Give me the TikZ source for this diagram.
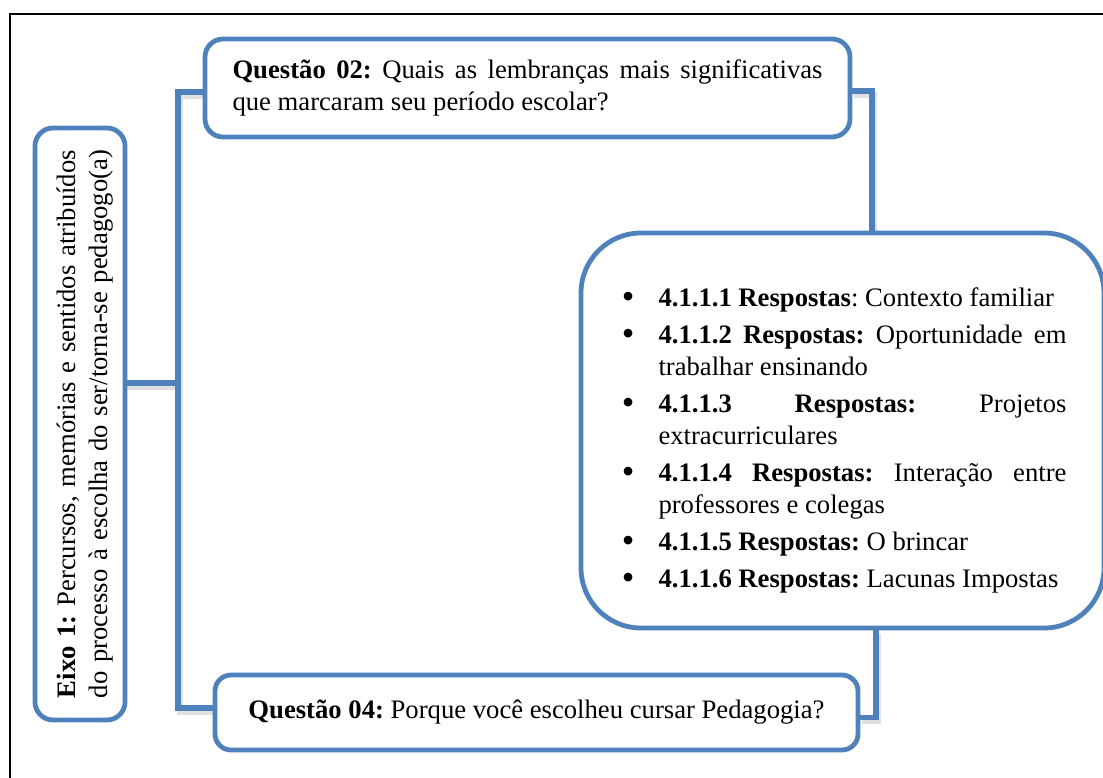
\documentclass[tikz,border=0pt]{standalone}
\usepackage{fontspec}
\setmainfont{Liberation Serif}
\usetikzlibrary{backgrounds}
\definecolor{axisblue}{HTML}{4F81BD}
\newcommand\bulletmark{\raisebox{-0.06em}{\scalebox{1.35}{\textbullet}}}
\frenchspacing
\begin{document}
\begin{tikzpicture}[x=0.75pt,y=-0.75pt,
  box/.style={draw=axisblue, line width=3.6pt, fill=white, rounded corners=13.5pt,
    inner sep=0pt, align=center, font=\fontsize{20pt}{24pt}\selectfont},
  conn/.style={draw=axisblue, line width=3.8pt,
    preaction={draw=black, opacity=0.12, line width=5pt,
      transform canvas={shift={(1.5pt,-3pt)}}}},
  frame/.style={draw=black, line width=1.5pt}]
\useasboundingbox (0,0) rectangle (1103,778);

% axis box, text turned upwards
\node[box, minimum width=444pt, minimum height=67.5pt, rotate=90] (eixo) at (80,424)
  {\parbox{411pt}{\vspace*{7.5pt}\parfillskip=0pt\textbf{Eixo 1:} Percursos, memórias e sentidos atribuídos\linebreak
   do processo à escolha do ser/torna-se pedagogo(a)}};

% question boxes
\node[box, minimum width=483.75pt, minimum height=73.5pt] (q2) at (527.5,88)
  {\parbox{442.5pt}{\textbf{Questão 02:} Quais as lembranças mais significativas
   que marcaram seu período escolar?}};
\node[box, rounded corners=12pt, minimum width=482.25pt, minimum height=56.25pt] (q4) at (536.5,712.5)
  {\textbf{Questão 04:} Porque você escolheu cursar Pedagogia?};

% answers box
\node[box, rounded corners=45pt, minimum width=392.25pt, minimum height=296.25pt] (resp) at (842.5,430.5)
  {\begin{minipage}{336pt}
   \hyphenpenalty=10000 \exhyphenpenalty=10000 \tolerance=10000
   \vspace*{15pt}
   \begin{list}{\bulletmark}{\setlength{\leftmargin}{30pt}\setlength{\labelwidth}{12pt}%
     \setlength{\labelsep}{18pt}\setlength{\itemsep}{3.75pt}\setlength{\parsep}{0pt}%
     \setlength{\topsep}{0pt}\setlength{\partopsep}{0pt}}
   \item \textbf{4.1.1.1 Respostas}: Contexto familiar
   \item \textbf{4.1.1.2 Respostas:} Oportunidade em trabalhar ensinando
   \item \textbf{4.1.1.3 Respostas:} Projetos extracurriculares
   \item \textbf{4.1.1.4 Respostas:} Interação entre professores e colegas
   \item \textbf{4.1.1.5 Respostas:} O brincar
   \item \textbf{4.1.1.6 Respostas:} Lacunas Impostas
   \end{list}
   \end{minipage}};

\begin{scope}[on background layer]
  % page frame
  \draw[frame] (1120,14) -- (10,14) -- (10,800);
  % connectors
  \coordinate (hub) at (178,383);
  \draw[conn] (eixo.center |- hub) -- (hub);
  \draw[conn] ([yshift=-3pt]q2.west) -| (hub) |- ([yshift=3.4pt]q4.west);
  \draw[conn] ([yshift=-2.25pt]q2.east) -| ([xshift=22.1pt]resp.north);
  \draw[conn] ([xshift=25.1pt]resp.south) |- ([yshift=-3.4pt]q4.east);
\end{scope}
\end{tikzpicture}
\end{document}
